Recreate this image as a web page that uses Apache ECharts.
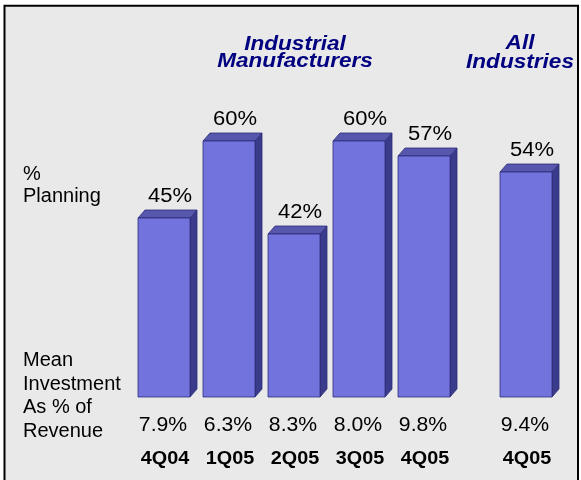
<!DOCTYPE html>
<html><head><meta charset="utf-8">
<script src="https://cdn.jsdelivr.net/npm/echarts@6/dist/echarts.min.js"></script>
<style>html,body{margin:0;padding:0;background:#fff}#c{width:581px;height:480px}</style>
</head><body><div id="c"></div>
<script>
const categoriesIM = ['4Q04', '1Q05', '2Q05', '3Q05', '4Q05'];
const planningIM = [45, 60, 42, 60, 57];
const investmentIM = [7.9, 6.3, 8.3, 8.0, 9.8];
const categoriesAll = ['4Q05'];
const planningAll = [54];
const investmentAll = [9.4];
const groupTitles = ['Industrial\nManufacturers', 'All\nIndustries'];
const rowLabelPlanning = '%\nPlanning';
const rowLabelInvestment = 'Mean\nInvestment\nAs % of\nRevenue';

const Y_MIN = 10.5, Y_MAX = 70;
const FONT = '"Liberation Sans", Arial, Helvetica, sans-serif';

function txt(text, x, y, size, opts) {
  opts = opts || {};
  return {
    type: 'text', x: x, y: y, scaleX: opts.scaleX || 1, z: 50,
    style: {
      text: text, fill: opts.fill || '#000',
      fontSize: size, fontFamily: FONT,
      fontWeight: opts.weight || 'normal', fontStyle: opts.style || 'normal',
      align: opts.align || 'center', textAlign: opts.align || 'center',
      verticalAlign: 'middle', textVerticalAlign: 'middle',
      lineHeight: opts.lineHeight
    }
  };
}

function makeRender(cats) {
  return function (params, api) {
    const idx = api.value(0);
    const p = api.coord([idx, api.value(1)]);
    const b = api.coord([idx, Y_MIN]);
    const w = api.size([1, 0])[0] * 0.8;
    const L = Math.round(p[0] - w / 2), R = L + Math.round(w);
    const T = Math.round(p[1]), B = Math.round(b[1]);
    const dx = 7, dy = 8;
    const cx = (L + R) / 2;
    const edge = { stroke: '#2c2c78', lineWidth: 0.8 };
    return {
      type: 'group',
      children: [
        { type: 'polygon', shape: { points: [[R, T], [R + dx, T - dy], [R + dx, B - dy], [R, B]] },
          style: Object.assign({ fill: '#3b3b8c' }, edge) },
        { type: 'polygon', shape: { points: [[L, T], [L + dx, T - dy], [R + dx, T - dy], [R, T]] },
          style: Object.assign({ fill: '#5757ad' }, edge) },
        { type: 'rect', shape: { x: L, y: T, width: R - L, height: B - T },
          style: Object.assign({ fill: '#7373dd' }, edge) },
        txt(api.value(1) + '%', cx + 6, T - dy - 14, 20, { scaleX: 1.1 }),
        txt(api.value(2).toFixed(1) + '%', cx - 1, B + 28, 20, { scaleX: 1.06 }),
        txt(cats[idx], cx + 1, B + 62, 18, { scaleX: 1.1, weight: 'bold' })
      ]
    };
  };
}

const chart = echarts.init(document.getElementById('c'), null, { renderer: 'canvas' });
const hiddenAxis = { show: false };
chart.setOption({
  backgroundColor: '#ffffff',
  animation: false,
  grid: [
    { left: 131, width: 325, top: 89, bottom: 83 },
    { left: 493, width: 65, top: 89, bottom: 83 }
  ],
  xAxis: [
    { type: 'category', gridIndex: 0, data: categoriesIM, show: false },
    { type: 'category', gridIndex: 1, data: categoriesAll, show: false }
  ],
  yAxis: [
    { type: 'value', gridIndex: 0, min: Y_MIN, max: Y_MAX, show: false },
    { type: 'value', gridIndex: 1, min: Y_MIN, max: Y_MAX, show: false }
  ],
  graphic: [
    { type: 'rect', z: -10, shape: { x: 4.5, y: 5.7, width: 573.5, height: 600 },
      style: { fill: '#e9e9e9', stroke: '#000', lineWidth: 2 } },
    txt(groupTitles[0], 295, 53, 20, { scaleX: 1.13, weight: 'bold', style: 'italic', fill: '#000080', lineHeight: 17 }),
    txt(groupTitles[1], 520, 53, 20, { scaleX: 1.13, weight: 'bold', style: 'italic', fill: '#000080', lineHeight: 19 }),
    txt(rowLabelPlanning, 23, 185, 20, { align: 'left', lineHeight: 22 }),
    txt(rowLabelInvestment, 23, 396, 20, { align: 'left', lineHeight: 23.5 })
  ],
  series: [
    { type: 'custom', xAxisIndex: 0, yAxisIndex: 0, clip: false,
      renderItem: makeRender(categoriesIM),
      data: planningIM.map((v, i) => [i, v, investmentIM[i]]) },
    { type: 'custom', xAxisIndex: 1, yAxisIndex: 1, clip: false,
      renderItem: makeRender(categoriesAll),
      data: planningAll.map((v, i) => [i, v, investmentAll[i]]) }
  ]
});
</script></body></html>
